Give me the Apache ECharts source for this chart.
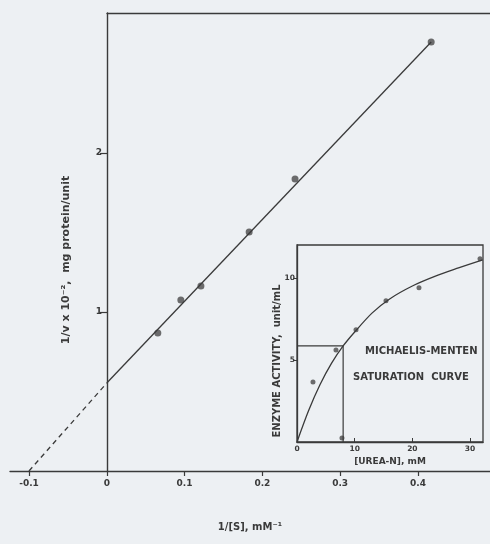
<!DOCTYPE html>
<html>
<head>
<meta charset="utf-8">
<script src="https://cdn.jsdelivr.net/npm/echarts@6/dist/echarts.min.js"></script>
<style>html,body{margin:0;padding:0;background:#edf0f3;}#c{width:490px;height:544px;}</style>
</head>
<body>
<div id="c"></div>
<script>
// Main Lineweaver-Burk plot data
const invS = [0.0656, 0.0952, 0.121, 0.183, 0.242, 0.417];
const invV = [0.868, 1.075, 1.164, 1.503, 1.836, 2.698];
const fitX = [0, 0.417];
const fitY = [0.553, 2.698];
const extX = [-0.1, 0];
const extY = [0, 0.553];
const mainXTicks = [-0.1, 0, 0.1, 0.2, 0.3, 0.4];
const mainYTicks = [1, 2];

// Inset Michaelis-Menten data
const urea = [2.77, 6.76, 7.8, 10.23, 15.43, 21.15, 31.73];
const activity = [3.66, 5.61, 0.24, 6.83, 8.60, 9.39, 11.16];
const curveX = [0, 2, 4, 6, 8, 10, 13, 16, 20, 24, 28, 32.2];
const curveY = [0, 1.9, 3.5, 4.8, 5.85, 6.7, 7.85, 8.7, 9.5, 10.1, 10.6, 11.1];
const kmX = [0, 8.0, 8.0];
const kmY = [5.85, 5.85, 0];
const insetXTicks = [0, 10, 20, 30];
const insetYTicks = [5, 10];

const ink = '#3a3a3a';
const FONT = 'DejaVu Sans';
const zip = (a, b) => a.map((v, i) => [v, b[i]]);

const chart = echarts.init(document.getElementById('c'), null, {renderer: 'canvas'});
chart.setOption({
  backgroundColor: '#edf0f3',
  animation: false,
  grid: [
    {left: 10, right: 0, top: 13, bottom: 73},
    {left: 107, right: 0, top: 13, bottom: 73},
    {left: 297, right: 7, top: 245, bottom: 102, show: true, borderColor: ink, borderWidth: 1.3, backgroundColor: 'transparent'}
  ],
  xAxis: [
    {gridIndex: 0, type: 'value', min: -0.1244, max: 0.4926,
     name: '1/[S], mM\u207B\u00B9', nameLocation: 'middle', nameGap: 51,
     nameTextStyle: {color: ink, fontFamily: FONT, fontWeight: 'bold', fontSize: 10},
     axisLine: {onZero: false, lineStyle: {color: ink, width: 1.4}},
     axisTick: {customValues: mainXTicks, length: 5, lineStyle: {color: ink, width: 1.2}},
     axisLabel: {customValues: mainXTicks, color: ink, fontFamily: FONT, fontWeight: 'bold', fontSize: 9, margin: 8,
       formatter: v => (v === 0 ? '0' : String(Math.round(v * 10) / 10))},
     splitLine: {show: false}},
    {gridIndex: 1, type: 'value', position: 'top', min: 0, max: 1,
     axisLine: {show: true, onZero: false, lineStyle: {color: ink, width: 1.4}},
     axisTick: {show: false}, axisLabel: {show: false}, splitLine: {show: false}},
    {gridIndex: 2, type: 'value', min: 0, max: 32.25,
     name: '[UREA-N], mM', nameLocation: 'middle', nameGap: 15,
     nameTextStyle: {color: ink, fontFamily: FONT, fontWeight: 'bold', fontSize: 9},
     axisLine: {onZero: false, lineStyle: {color: ink, width: 1.3}},
     axisTick: {customValues: insetXTicks, inside: true, length: 4, lineStyle: {color: ink}},
     axisLabel: {customValues: insetXTicks, color: ink, fontFamily: FONT, fontWeight: 'bold', fontSize: 7.5, margin: 3},
     splitLine: {show: false}}
  ],
  yAxis: [
    {gridIndex: 0, type: 'value', min: 0, max: 2.88, show: false},
    {gridIndex: 1, type: 'value', min: 0, max: 2.88,
     axisLine: {show: true, onZero: false, lineStyle: {color: ink, width: 1.4}},
     axisTick: {customValues: mainYTicks, length: 7, lineStyle: {color: ink, width: 1.2}},
     axisLabel: {customValues: mainYTicks, color: ink, fontFamily: FONT, fontWeight: 'bold', fontSize: 9, margin: 5},
     splitLine: {show: false}},
    {gridIndex: 2, type: 'value', min: 0, max: 12,
     axisLine: {show: true, onZero: false, lineStyle: {color: ink, width: 1.3}},
     axisTick: {customValues: insetYTicks, length: 4, lineStyle: {color: ink}},
     axisLabel: {customValues: insetYTicks, color: ink, fontFamily: FONT, fontWeight: 'bold', fontSize: 7.5, margin: 2},
     splitLine: {show: false}}
  ],
  series: [
    {type: 'line', xAxisIndex: 0, yAxisIndex: 0, data: zip(extX, extY), symbol: 'none',
     lineStyle: {color: ink, width: 1.3, type: [5, 4]}},
    {type: 'line', xAxisIndex: 0, yAxisIndex: 0, data: zip(fitX, fitY), symbol: 'none',
     lineStyle: {color: ink, width: 1.3}},
    {type: 'scatter', xAxisIndex: 0, yAxisIndex: 0, data: zip(invS, invV), symbolSize: 7,
     itemStyle: {color: '#4a4a4a'}},
    {type: 'line', xAxisIndex: 2, yAxisIndex: 2, data: zip(curveX, curveY), symbol: 'none', smooth: 0.3,
     lineStyle: {color: ink, width: 1.3}},
    {type: 'line', xAxisIndex: 2, yAxisIndex: 2, data: zip(kmX, kmY), symbol: 'none',
     lineStyle: {color: ink, width: 1.2}},
    {type: 'scatter', xAxisIndex: 2, yAxisIndex: 2, data: zip(urea, activity), symbolSize: 5,
     itemStyle: {color: '#4a4a4a'}}
  ],
  graphic: [
    {type: 'text', x: 66, y: 260, rotation: Math.PI / 2,
     style: {text: '1/v x 10\u207B\u00B2,  mg protein/unit', font: 'bold 11px "DejaVu Sans"', fill: ink, textAlign: 'center', textVerticalAlign: 'middle'}},
    {type: 'text', x: 277, y: 361, rotation: Math.PI / 2,
     style: {text: 'ENZYME ACTIVITY,  unit/mL', font: 'bold 10px "DejaVu Sans"', fill: ink, textAlign: 'center', textVerticalAlign: 'middle'}},
    {type: 'text', x: 365, y: 351,
     style: {text: 'MICHAELIS-MENTEN', font: 'bold 10px "DejaVu Sans"', fill: ink, textAlign: 'left', textVerticalAlign: 'middle'}},
    {type: 'text', x: 353, y: 377,
     style: {text: 'SATURATION  CURVE', font: 'bold 10px "DejaVu Sans"', fill: ink, textAlign: 'left', textVerticalAlign: 'middle'}}
  ]
});
</script>
</body>
</html>
